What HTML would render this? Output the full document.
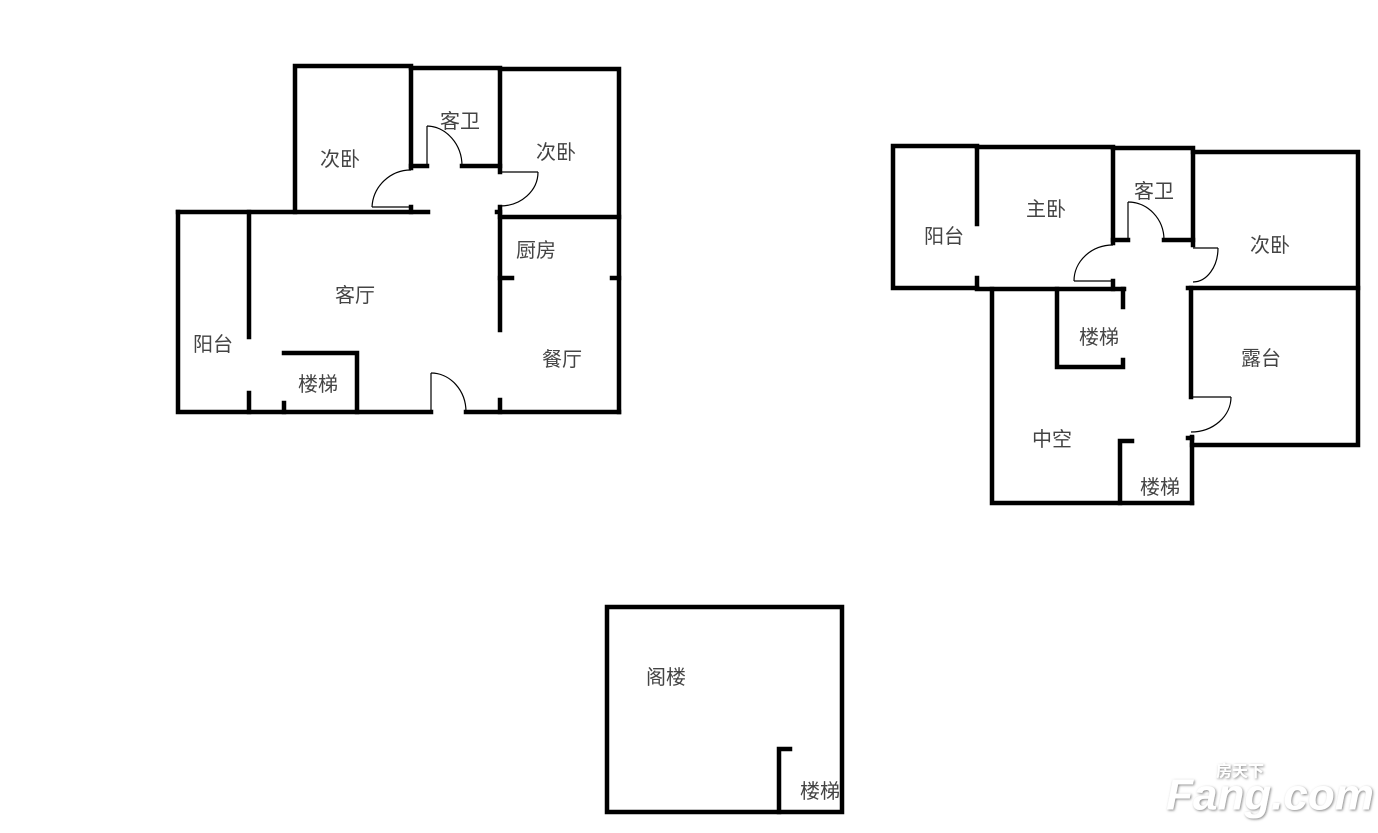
<!DOCTYPE html>
<html><head><meta charset="utf-8"><style>
html,body{margin:0;padding:0;background:#fff;}
svg{display:block;}
text{font-family:"Liberation Sans","Noto Sans CJK SC",sans-serif;font-size:20px;fill:#444;text-anchor:middle;dominant-baseline:central;}
.w{stroke:#000;stroke-width:4.5;fill:none;stroke-linecap:square;}
.d{stroke:#000;stroke-width:1.2;fill:none;}
</style></head><body>
<svg width="1378" height="833" viewBox="0 0 1378 833" xmlns="http://www.w3.org/2000/svg">
<defs><filter id="sh"><feDropShadow dx="1" dy="1" stdDeviation="1.2" flood-color="#888"/></filter></defs>
<!-- Plan 1 -->
<g class="w">
<polyline points="295,212 295,66 411,66 411,168"/>
<polyline points="411,68 500,68 500,172"/>
<polyline points="500,69 619,69 619,412"/>
<line x1="411" y1="166" x2="427" y2="166"/>
<line x1="462" y1="166" x2="500" y2="166"/>
<line x1="178" y1="212" x2="428" y2="212"/>
<line x1="411" y1="207" x2="411" y2="212"/>
<line x1="500" y1="207" x2="500" y2="330"/>
<line x1="497" y1="212" x2="500" y2="212"/>
<line x1="500" y1="217" x2="619" y2="217"/>
<line x1="500" y1="278" x2="512" y2="278"/>
<line x1="612" y1="278" x2="619" y2="278"/>
<line x1="500" y1="400" x2="500" y2="412"/>
<polyline points="178,212 178,412 431,412"/>
<line x1="466" y1="412" x2="619" y2="412"/>
<line x1="249" y1="212" x2="249" y2="337"/>
<line x1="249" y1="393" x2="249" y2="412"/>
<polyline points="284,353 357,353 357,412"/>
<line x1="284" y1="403" x2="284" y2="412"/>
</g>
<g class="d">
<line x1="372" y1="207" x2="411" y2="207"/><path d="M372,207 A39,39 0 0 1 411,170"/>
<line x1="427" y1="126" x2="427" y2="166"/><path d="M427,126 A36,40 0 0 1 462,166"/>
<line x1="500" y1="172" x2="538" y2="172"/><path d="M538,172 A38,34 0 0 1 500,206"/>
<line x1="431" y1="373" x2="431" y2="412"/><path d="M431,373 A35,39 0 0 1 466,412"/>
</g>
<text x="340" y="160">次卧</text><text x="460" y="122">客卫</text><text x="556" y="153">次卧</text>
<text x="536" y="251">厨房</text><text x="355" y="296">客厅</text><text x="213" y="345">阳台</text>
<text x="318" y="385">楼梯</text><text x="562" y="360">餐厅</text>
<!-- Plan 2 -->
<g class="w">
<polyline points="977,288 893,288 893,146 977,146 977,224"/>
<line x1="977" y1="278" x2="977" y2="288"/>
<polyline points="977,147 1113,147 1113,243"/>
<polyline points="1113,148 1193,148 1193,245"/>
<line x1="1113" y1="240" x2="1128" y2="240"/>
<line x1="1164" y1="240" x2="1193" y2="240"/>
<line x1="977" y1="289" x2="1124" y2="289"/>
<line x1="1113" y1="281" x2="1113" y2="289"/>
<polyline points="1193,152 1358,152 1358,445 1192,445"/>
<line x1="1188" y1="288" x2="1358" y2="288"/>
<line x1="1191" y1="288" x2="1191" y2="397"/>
<line x1="1192" y1="437" x2="1192" y2="503"/>
<line x1="1188" y1="438" x2="1192" y2="438"/>
<polyline points="992,289 992,503 1192,503"/>
<polyline points="1123,307 1123,289"/>
<polyline points="1123,360 1123,367 1057,367 1057,289"/>
<polyline points="1132,441 1120,441 1120,503"/>
</g>
<g class="d">
<line x1="1128" y1="202" x2="1128" y2="240"/><path d="M1128,202 A36,38 0 0 1 1164,240"/>
<line x1="1074" y1="281" x2="1113" y2="281"/><path d="M1074,281 A39,36 0 0 1 1113,245"/>
<line x1="1193" y1="248" x2="1218" y2="248"/><path d="M1218,248 A25,34 0 0 1 1193,282"/>
<line x1="1191" y1="397" x2="1231" y2="397"/><path d="M1231,397 A40,35 0 0 1 1191,432"/>
</g>
<text x="944" y="237">阳台</text><text x="1046" y="210">主卧</text><text x="1154" y="192">客卫</text>
<text x="1270" y="246">次卧</text><text x="1099" y="338">楼梯</text><text x="1261" y="359">露台</text>
<text x="1052" y="440">中空</text><text x="1160" y="488">楼梯</text>
<!-- Plan 3 -->
<g class="w">
<polyline points="842,812 607,812 607,607 842,607 842,812"/>
<polyline points="790,749 779,749 779,812"/>
</g>
<text x="666" y="678">阁楼</text><text x="820" y="792">楼梯</text>
<!-- watermark -->
<g filter="url(#sh)">
<text x="1270" y="795" style="font-size:44px;font-weight:bold;font-style:italic;fill:#fff;font-family:'Liberation Sans',sans-serif;">Fang.com</text>
<text x="1240" y="772" style="font-size:16px;font-weight:bold;fill:#fff;">房天下</text>
</g>
</svg>
</body></html>
